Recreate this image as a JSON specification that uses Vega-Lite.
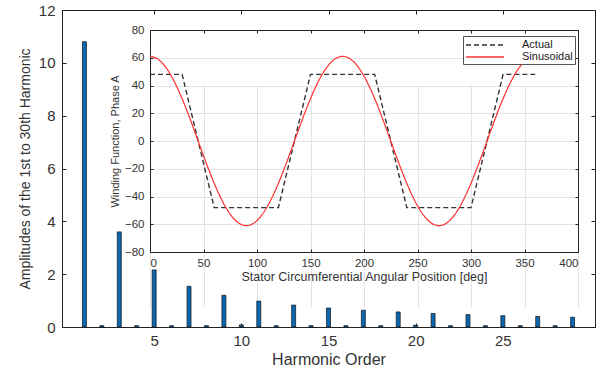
{
  "$schema": "https://vega.github.io/schema/vega-lite/v6.json",
  "width": 533,
  "height": 317,
  "autosize": {"type": "none"},
  "padding": {"left": 62, "top": 10, "right": 4, "bottom": 42},
  "background": "white",
  "config": {
    "view": {"stroke": "#222", "strokeWidth": 1, "fill": "white"},
    "font": "Liberation Sans",
    "axis": {
      "domainColor": "#222",
      "tickColor": "#222",
      "labelColor": "#333",
      "titleColor": "#333",
      "labelFont": "Liberation Sans",
      "titleFont": "Liberation Sans",
      "titleFontWeight": "normal",
      "grid": false
    }
  },
  "datasets": {
    "harm": [
      {"order": 1, "amp": 10.8}, {"order": 2, "amp": 0.05}, {"order": 3, "amp": 3.6},
      {"order": 4, "amp": 0.05}, {"order": 5, "amp": 2.16}, {"order": 6, "amp": 0.05},
      {"order": 7, "amp": 1.54}, {"order": 8, "amp": 0.05}, {"order": 9, "amp": 1.2},
      {"order": 10, "amp": 0.08}, {"order": 11, "amp": 0.98}, {"order": 12, "amp": 0.05},
      {"order": 13, "amp": 0.83}, {"order": 14, "amp": 0.05}, {"order": 15, "amp": 0.72},
      {"order": 16, "amp": 0.05}, {"order": 17, "amp": 0.635}, {"order": 18, "amp": 0.05},
      {"order": 19, "amp": 0.57}, {"order": 20, "amp": 0.07}, {"order": 21, "amp": 0.51},
      {"order": 22, "amp": 0.05}, {"order": 23, "amp": 0.47}, {"order": 24, "amp": 0.05},
      {"order": 25, "amp": 0.43}, {"order": 26, "amp": 0.05}, {"order": 27, "amp": 0.4},
      {"order": 28, "amp": 0.05}, {"order": 29, "amp": 0.37}
    ],
    "actual": [
      {"deg": 0, "value": 48, "series": "Actual"},
      {"deg": 30, "value": 48, "series": "Actual"},
      {"deg": 60, "value": -48, "series": "Actual"},
      {"deg": 120, "value": -48, "series": "Actual"},
      {"deg": 150, "value": 48, "series": "Actual"},
      {"deg": 210, "value": 48, "series": "Actual"},
      {"deg": 240, "value": -48, "series": "Actual"},
      {"deg": 300, "value": -48, "series": "Actual"},
      {"deg": 330, "value": 48, "series": "Actual"},
      {"deg": 360, "value": 48, "series": "Actual"}
    ],
    "sine": [
      {"deg": 0, "value": 61, "series": "Sinusoidal"}, {"deg": 5, "value": 60.07, "series": "Sinusoidal"},
      {"deg": 10, "value": 57.32, "series": "Sinusoidal"}, {"deg": 15, "value": 52.83, "series": "Sinusoidal"},
      {"deg": 20, "value": 46.73, "series": "Sinusoidal"}, {"deg": 25, "value": 39.21, "series": "Sinusoidal"},
      {"deg": 30, "value": 30.5, "series": "Sinusoidal"}, {"deg": 35, "value": 20.86, "series": "Sinusoidal"},
      {"deg": 40, "value": 10.59, "series": "Sinusoidal"}, {"deg": 45, "value": 0, "series": "Sinusoidal"},
      {"deg": 50, "value": -10.59, "series": "Sinusoidal"}, {"deg": 55, "value": -20.86, "series": "Sinusoidal"},
      {"deg": 60, "value": -30.5, "series": "Sinusoidal"}, {"deg": 65, "value": -39.21, "series": "Sinusoidal"},
      {"deg": 70, "value": -46.73, "series": "Sinusoidal"}, {"deg": 75, "value": -52.83, "series": "Sinusoidal"},
      {"deg": 80, "value": -57.32, "series": "Sinusoidal"}, {"deg": 85, "value": -60.07, "series": "Sinusoidal"},
      {"deg": 90, "value": -61, "series": "Sinusoidal"}, {"deg": 95, "value": -60.07, "series": "Sinusoidal"},
      {"deg": 100, "value": -57.32, "series": "Sinusoidal"}, {"deg": 105, "value": -52.83, "series": "Sinusoidal"},
      {"deg": 110, "value": -46.73, "series": "Sinusoidal"}, {"deg": 115, "value": -39.21, "series": "Sinusoidal"},
      {"deg": 120, "value": -30.5, "series": "Sinusoidal"}, {"deg": 125, "value": -20.86, "series": "Sinusoidal"},
      {"deg": 130, "value": -10.59, "series": "Sinusoidal"}, {"deg": 135, "value": 0, "series": "Sinusoidal"},
      {"deg": 140, "value": 10.59, "series": "Sinusoidal"}, {"deg": 145, "value": 20.86, "series": "Sinusoidal"},
      {"deg": 150, "value": 30.5, "series": "Sinusoidal"}, {"deg": 155, "value": 39.21, "series": "Sinusoidal"},
      {"deg": 160, "value": 46.73, "series": "Sinusoidal"}, {"deg": 165, "value": 52.83, "series": "Sinusoidal"},
      {"deg": 170, "value": 57.32, "series": "Sinusoidal"}, {"deg": 175, "value": 60.07, "series": "Sinusoidal"},
      {"deg": 180, "value": 61, "series": "Sinusoidal"}, {"deg": 185, "value": 60.07, "series": "Sinusoidal"},
      {"deg": 190, "value": 57.32, "series": "Sinusoidal"}, {"deg": 195, "value": 52.83, "series": "Sinusoidal"},
      {"deg": 200, "value": 46.73, "series": "Sinusoidal"}, {"deg": 205, "value": 39.21, "series": "Sinusoidal"},
      {"deg": 210, "value": 30.5, "series": "Sinusoidal"}, {"deg": 215, "value": 20.86, "series": "Sinusoidal"},
      {"deg": 220, "value": 10.59, "series": "Sinusoidal"}, {"deg": 225, "value": 0, "series": "Sinusoidal"},
      {"deg": 230, "value": -10.59, "series": "Sinusoidal"}, {"deg": 235, "value": -20.86, "series": "Sinusoidal"},
      {"deg": 240, "value": -30.5, "series": "Sinusoidal"}, {"deg": 245, "value": -39.21, "series": "Sinusoidal"},
      {"deg": 250, "value": -46.73, "series": "Sinusoidal"}, {"deg": 255, "value": -52.83, "series": "Sinusoidal"},
      {"deg": 260, "value": -57.32, "series": "Sinusoidal"}, {"deg": 265, "value": -60.07, "series": "Sinusoidal"},
      {"deg": 270, "value": -61, "series": "Sinusoidal"}, {"deg": 275, "value": -60.07, "series": "Sinusoidal"},
      {"deg": 280, "value": -57.32, "series": "Sinusoidal"}, {"deg": 285, "value": -52.83, "series": "Sinusoidal"},
      {"deg": 290, "value": -46.73, "series": "Sinusoidal"}, {"deg": 295, "value": -39.21, "series": "Sinusoidal"},
      {"deg": 300, "value": -30.5, "series": "Sinusoidal"}, {"deg": 305, "value": -20.86, "series": "Sinusoidal"},
      {"deg": 310, "value": -10.59, "series": "Sinusoidal"}, {"deg": 315, "value": 0, "series": "Sinusoidal"},
      {"deg": 320, "value": 10.59, "series": "Sinusoidal"}, {"deg": 325, "value": 20.86, "series": "Sinusoidal"},
      {"deg": 330, "value": 30.5, "series": "Sinusoidal"}, {"deg": 335, "value": 39.21, "series": "Sinusoidal"},
      {"deg": 340, "value": 46.73, "series": "Sinusoidal"}, {"deg": 345, "value": 52.83, "series": "Sinusoidal"},
      {"deg": 350, "value": 57.32, "series": "Sinusoidal"}, {"deg": 355, "value": 60.07, "series": "Sinusoidal"},
      {"deg": 360, "value": 61, "series": "Sinusoidal"}
    ]
  },
  "layer": [
    {
      "data": {"name": "harm"},
      "layer": [
        {
          "mark": {"type": "bar", "size": 4, "color": "#0a67b2", "stroke": "#111", "strokeWidth": 0.7},
          "encoding": {
            "x": {
              "field": "order", "type": "quantitative",
              "scale": {"domain": [0, 30], "nice": false, "zero": false},
              "axis": {
                "orient": "bottom", "values": [5, 10, 15, 20, 25], "title": "Harmonic Order",
                "tickSize": -4, "labelFontSize": 15, "titleFontSize": 16,
                "labelPadding": 10, "titlePadding": 3
              }
            },
            "y": {
              "field": "amp", "type": "quantitative",
              "scale": {"domain": [0, 12], "nice": false},
              "axis": {
                "orient": "left", "values": [0, 2, 4, 6, 8, 10, 12],
                "title": "Amplitudes of the 1st to 30th Harmonic",
                "tickSize": -4, "labelFontSize": 15, "titleFontSize": 14,
                "labelPadding": 11, "titlePadding": 6
              }
            }
          }
        },
        {
          "mark": {"type": "point", "opacity": 0},
          "encoding": {
            "x": {
              "field": "order", "type": "quantitative",
              "axis": {"orient": "top", "values": [5, 10, 15, 20, 25], "labels": false, "title": null, "domain": false, "tickSize": -4}
            },
            "y": {
              "field": "amp", "type": "quantitative",
              "axis": {"orient": "right", "values": [0, 2, 4, 6, 8, 10, 12], "labels": false, "title": null, "domain": false, "tickSize": -4}
            }
          }
        }
      ]
    },
    {
      "layer": [
        {
          "data": {"name": "actual"},
          "mark": {"type": "line", "strokeWidth": 1.4},
          "encoding": {
            "x": {
              "field": "deg", "type": "quantitative",
              "scale": {"domain": [0, 400], "range": [88, 516], "nice": false},
              "axis": {
                "orient": "bottom", "offset": -75,
                "values": [0, 50, 100, 150, 200, 250, 300, 350, 400],
                "title": "Stator Circumferential Angular Position [deg]",
                "grid": true, "gridColor": "#e3e3e3",
                "tickSize": -3, "labelFontSize": 11.5, "titleFontSize": 12.5,
                "labelPadding": 8, "titlePadding": 2
              }
            },
            "y": {
              "field": "value", "type": "quantitative",
              "scale": {"domain": [-80, 80], "range": [242, 20], "nice": false},
              "axis": {
                "orient": "left", "offset": -88,
                "values": [-80, -60, -40, -20, 0, 20, 40, 60, 80],
                "title": "Winding Function, Phase A",
                "grid": true, "gridColor": "#e3e3e3",
                "tickSize": -3, "labelFontSize": 11.5, "titleFontSize": 11,
                "labelPadding": 9, "titlePadding": 4
              }
            },
            "color": {
              "field": "series", "type": "nominal",
              "scale": {"domain": ["Actual", "Sinusoidal"], "range": ["#333333", "#ff3030"]},
              "legend": {
                "title": null, "orient": "none", "legendX": 401, "legendY": 26,
                "fillColor": "white", "strokeColor": "#555", "padding": 2,
                "symbolType": "M-3,0H3", "symbolSize": 160, "symbolOffset": 13,
                "symbolStrokeWidth": 1.3, "labelOffset": 30,
                "labelFontSize": 11, "labelColor": "#222", "rowPadding": 0
              }
            },
            "strokeDash": {
              "field": "series", "type": "nominal",
              "scale": {"domain": ["Actual", "Sinusoidal"], "range": [[5, 3], [1, 0]]},
              "legend": {
                "title": null, "orient": "none", "legendX": 401, "legendY": 26,
                "fillColor": "white", "strokeColor": "#555", "padding": 2,
                "symbolType": "M-3,0H3", "symbolSize": 160, "symbolOffset": 13,
                "symbolStrokeWidth": 1.3, "labelOffset": 30,
                "labelFontSize": 11, "labelColor": "#222", "rowPadding": 0
              }
            }
          }
        },
        {
          "data": {"name": "sine"},
          "mark": {"type": "line", "strokeWidth": 1.2, "interpolate": "monotone"},
          "encoding": {
            "x": {"field": "deg", "type": "quantitative", "axis": null},
            "y": {"field": "value", "type": "quantitative", "axis": null},
            "color": {"field": "series", "type": "nominal"},
            "strokeDash": {"field": "series", "type": "nominal"}
          }
        },
        {
          "data": {"name": "actual"},
          "mark": {"type": "point", "opacity": 0},
          "encoding": {
            "x": {
              "field": "deg", "type": "quantitative",
              "axis": {"orient": "top", "offset": -20, "values": [0, 50, 100, 150, 200, 250, 300, 350, 400], "labels": false, "title": null, "tickSize": -3}
            },
            "y": {
              "field": "value", "type": "quantitative",
              "axis": {"orient": "right", "offset": -17, "values": [-80, -60, -40, -20, 0, 20, 40, 60, 80], "labels": false, "title": null, "tickSize": -3}
            }
          }
        }
      ]
    }
  ],
  "resolve": {"scale": {"x": "independent", "y": "independent", "color": "shared", "strokeDash": "shared"}}
}
